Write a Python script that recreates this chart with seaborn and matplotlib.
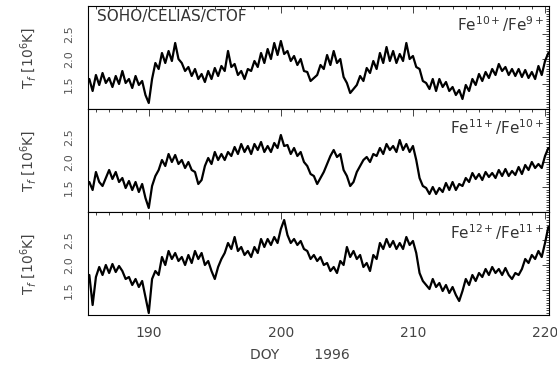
# Fe freeze-in temperatures, SOHO/CELIAS/CTOF, DOY 185-220 1996
import numpy as np
import pandas as pd
import matplotlib
matplotlib.use("Agg")
import matplotlib.pyplot as plt
import seaborn as sns

# sampling: DOY 185.5 ... 220.25 every 0.25 day
doy_start = 185.5
doy_step = 0.25

# freeze-in temperature T_f [10^6 K]
t_fe10_fe9 = [
    1.60, 1.36, 1.68, 1.48, 1.72, 1.52, 1.62, 1.44, 1.66, 1.50,
    1.76, 1.52, 1.60, 1.42, 1.66, 1.48, 1.56, 1.28, 1.12, 1.60,
    1.92, 1.80, 2.12, 1.92, 2.16, 1.96, 2.32, 2.00, 1.92, 1.76,
    1.84, 1.66, 1.80, 1.60, 1.70, 1.54, 1.76, 1.60, 1.82, 1.66,
    1.86, 1.76, 2.16, 1.84, 1.90, 1.68, 1.76, 1.60, 1.80, 1.76,
    1.96, 1.84, 2.12, 1.92, 2.20, 2.00, 2.32, 2.08, 2.36, 2.10,
    2.16, 1.96, 2.06, 1.88, 2.00, 1.76, 1.74, 1.56, 1.62, 1.68,
    1.88, 1.80, 2.08, 1.88, 2.16, 1.92, 2.00, 1.64, 1.52, 1.32,
    1.40, 1.48, 1.66, 1.56, 1.82, 1.72, 1.96, 1.80, 2.12, 1.92,
    2.24, 1.96, 2.16, 1.92, 2.10, 1.96, 2.32, 2.00, 2.06, 1.84,
    1.80, 1.56, 1.52, 1.40, 1.60, 1.36, 1.60, 1.44, 1.54, 1.36,
    1.44, 1.28, 1.38, 1.20, 1.48, 1.36, 1.60, 1.48, 1.70, 1.56,
    1.74, 1.62, 1.80, 1.68, 1.90, 1.76, 1.84, 1.68, 1.80, 1.66,
    1.80, 1.64, 1.78, 1.62, 1.74, 1.60, 1.86, 1.68, 1.96, 2.12,
]
t_fe11_fe10 = [
    1.60, 1.44, 1.80, 1.60, 1.52, 1.68, 1.84, 1.66, 1.80, 1.60,
    1.68, 1.48, 1.62, 1.44, 1.60, 1.40, 1.56, 1.28, 1.08, 1.52,
    1.72, 1.84, 2.04, 1.92, 2.16, 2.00, 2.14, 1.96, 2.04, 1.88,
    2.00, 1.84, 1.80, 1.56, 1.64, 1.92, 2.08, 1.96, 2.20, 2.04,
    2.16, 2.04, 2.20, 2.12, 2.30, 2.16, 2.36, 2.20, 2.32, 2.16,
    2.36, 2.24, 2.40, 2.20, 2.32, 2.20, 2.38, 2.28, 2.54, 2.32,
    2.34, 2.16, 2.28, 2.12, 2.20, 2.00, 1.92, 1.76, 1.72, 1.56,
    1.68, 1.80, 1.96, 2.12, 2.24, 2.10, 2.16, 1.84, 1.72, 1.52,
    1.60, 1.80, 1.92, 2.04, 2.10, 2.00, 2.16, 2.12, 2.28, 2.16,
    2.36, 2.24, 2.32, 2.20, 2.44, 2.24, 2.36, 2.20, 2.32, 2.04,
    1.68, 1.52, 1.48, 1.36, 1.50, 1.36, 1.48, 1.40, 1.58, 1.44,
    1.60, 1.44, 1.56, 1.52, 1.68, 1.60, 1.78, 1.66, 1.76, 1.64,
    1.80, 1.70, 1.78, 1.68, 1.84, 1.72, 1.86, 1.72, 1.82, 1.74,
    1.90, 1.76, 1.94, 1.84, 2.00, 1.88, 1.96, 1.88, 2.12, 2.28,
]
t_fe12_fe11 = [
    1.80, 1.20, 1.76, 1.96, 1.80, 2.00, 1.84, 2.02, 1.86, 1.98,
    1.88, 1.72, 1.76, 1.60, 1.72, 1.56, 1.68, 1.36, 1.04, 1.72,
    1.88, 1.80, 2.16, 2.00, 2.28, 2.12, 2.24, 2.08, 2.16, 2.00,
    2.20, 2.04, 2.28, 2.12, 2.24, 2.00, 2.08, 1.88, 1.72, 1.96,
    2.12, 2.24, 2.44, 2.32, 2.56, 2.28, 2.36, 2.20, 2.28, 2.16,
    2.36, 2.24, 2.52, 2.36, 2.52, 2.40, 2.56, 2.44, 2.72, 2.90,
    2.60, 2.44, 2.52, 2.40, 2.48, 2.32, 2.28, 2.12, 2.20, 2.08,
    2.16, 2.00, 2.04, 1.88, 1.96, 1.84, 2.08, 2.00, 2.36, 2.16,
    2.28, 2.12, 2.20, 1.96, 2.04, 1.88, 2.20, 2.12, 2.44, 2.32,
    2.52, 2.36, 2.48, 2.32, 2.44, 2.32, 2.56, 2.40, 2.48, 2.24,
    1.84, 1.68, 1.60, 1.52, 1.72, 1.56, 1.64, 1.48, 1.60, 1.44,
    1.56, 1.40, 1.28, 1.48, 1.72, 1.60, 1.80, 1.68, 1.84, 1.76,
    1.92, 1.80, 1.96, 1.84, 1.92, 1.80, 1.94, 1.80, 1.72, 1.84,
    1.80, 1.92, 2.12, 2.04, 2.20, 2.12, 2.28, 2.16, 2.44, 2.76,
]

ratio_labels = ["Fe$^{10+}$/Fe$^{9+}$", "Fe$^{11+}$/Fe$^{10+}$", "Fe$^{12+}$/Fe$^{11+}$"]
y_ticks = [1.5, 2.0, 2.5]
y_ticklabels = ["1.5", "2.0", "2.5"]
x_ticks = [190, 200, 210, 220]

sns.set_style("white")
plt.rcParams["font.family"] = ["DejaVu Sans"]

doy = doy_start + doy_step * np.arange(len(t_fe10_fe9))
df = pd.DataFrame({"DOY": np.tile(doy, 3),
                   "Tf": t_fe10_fe9 + t_fe11_fe10 + t_fe12_fe11,
                   "ratio": np.repeat(ratio_labels, len(doy))})

fig = plt.figure(figsize=(5.57, 3.73), dpi=100)
left, width = 88 / 557, 461 / 557
h = 103 / 373
bottoms = [(373 - 109) / 373, (373 - 212) / 373, (373 - 315) / 373]
label_y = [0.82, 0.82, 0.80]

axes = []
for i, (lab, b) in enumerate(zip(ratio_labels, bottoms)):
    ax = fig.add_axes([left, b, width, h])
    sns.lineplot(data=df[df.ratio == lab], x="DOY", y="Tf", color="black",
                 linewidth=1.6, ax=ax, legend=False)
    ax.set_xlim(185.4, 220.3)
    ax.set_ylim(1.0, 3.06)
    ax.set_yticks(y_ticks)
    ax.set_yticklabels(y_ticklabels, rotation=90, va="center", fontsize=8, color="#555555")
    ax.set_yticks(np.arange(1.05, 3.06, 0.05), minor=True)
    ax.set_xticks(x_ticks)
    ax.set_xticks(np.arange(186, 221, 1), minor=True)
    ax.tick_params(axis="both", which="both", direction="in", top=True, right=True, width=0.6)
    ax.tick_params(axis="both", which="major", length=5)
    ax.tick_params(axis="both", which="minor", length=2.5)
    ax.tick_params(axis="y", which="major", pad=10)
    for s in ax.spines.values():
        s.set_linewidth(0.8)
        s.set_color("black")
    ax.set_xlabel("")
    ax.set_ylabel("T$_f$ [10$^6$K]", fontsize=10, color="#444444", labelpad=18)
    ax.text(0.99, label_y[i], lab, transform=ax.transAxes, ha="right", va="center",
            fontsize=11, color="#333333")
    if i < 2:
        ax.tick_params(axis="x", labelbottom=False)
    else:
        ax.set_xticklabels([str(t) for t in x_ticks], fontsize=10, color="#444444")
        ax.tick_params(axis="x", pad=8)
    axes.append(ax)

axes[0].text(0.02, 0.9, "SOHO/CELIAS/CTOF", transform=axes[0].transAxes,
             ha="left", va="center", fontsize=11, color="#333333")
fig.text(300 / 557, 1 - 355 / 373, "DOY        1996", ha="center", va="center",
         fontsize=10, color="#444444")

fig.savefig("out.png", dpi=100)
